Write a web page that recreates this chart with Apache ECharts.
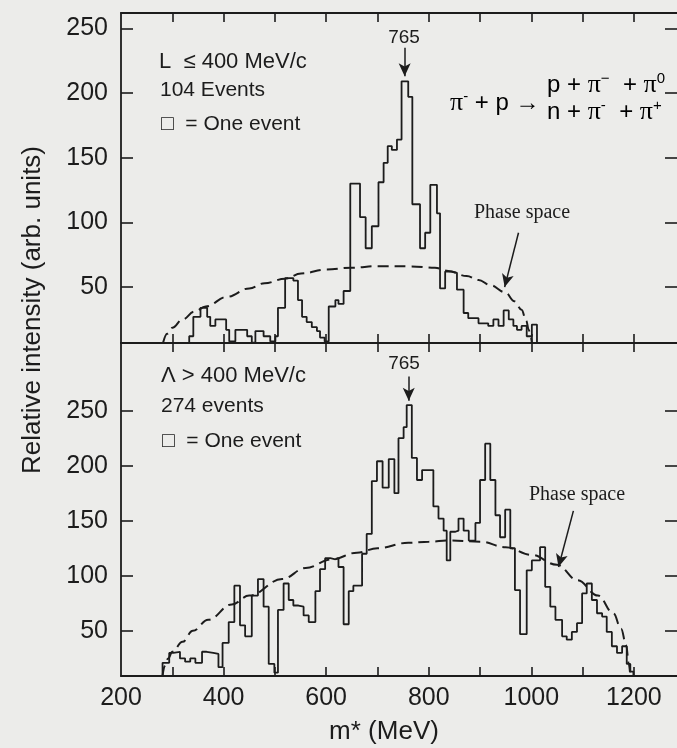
<!DOCTYPE html>
<html>
<head>
<meta charset="utf-8">
<title>rho meson m* spectra</title>
<script src="https://cdn.jsdelivr.net/npm/echarts@6.0.0/dist/echarts.min.js"></script>
<style>
    html, body { margin: 0; padding: 0; background: #ececea; }
    #chart { width: 677px; height: 748px; }
</style>
</head>
<body>
<div id="chart"></div>
<script>
// x ticks and labels (MeV)
var xTicks = [300, 400, 500, 600, 700, 800, 900, 1000, 1100, 1200];
var xLabels = [200, 400, 600, 800, 1000, 1200];
var yTicks = [50, 100, 150, 200, 250];

// upper panel, L <= 400 MeV/c : bin left edges (MeV) and heights
var topEdges = [333, 341, 355, 368, 374, 384, 405, 411, 423, 446, 455, 462, 478, 491, 501, 506, 520, 536, 545, 553,
    562, 572, 582, 588, 597, 605, 618, 624, 634, 647, 666, 677, 689, 702, 712, 720, 728, 738, 747, 760,
    768, 783, 793, 803, 816, 822, 832, 844, 855, 868, 877, 897, 916, 926, 936, 946, 956, 965, 972, 981,
    991, 1001];
var topCounts = [12, 27, 34, 27, 20, 25, 17, 8, 17, 12, 7, 16, 12, 8, 12, 34, 57, 55, 40, 27,
    23, 19, 16, 11, 8, 35, 40, 37, 47, 130, 104, 80, 97, 131, 146, 159, 156, 164, 209, 197,
    114, 80, 92, 129, 107, 49, 62, 61, 48, 30, 26, 22, 20, 25, 20, 32, 25, 20, 17, 20,
    12, 21];
var topEnd = 1011;

// lower panel, L > 400 MeV/c
var lowEdges = [281, 294, 302, 315, 325, 335, 345, 358, 367, 380, 390, 398, 410, 421, 432, 442, 455, 467, 478, 488,
    499, 506, 517, 527, 536, 546, 556, 566, 579, 588, 598, 608, 618, 624, 634, 644, 653, 670, 679, 689,
    699, 710, 722, 733, 741, 751, 757, 767, 777, 787, 809, 819, 829, 835, 842, 852, 858, 868, 878, 891,
    900, 910, 920, 930, 939, 949, 959, 968, 978, 991, 1001, 1017, 1027, 1037, 1047, 1060, 1069, 1079, 1089, 1099,
    1108, 1118, 1128, 1138, 1147, 1157, 1167, 1177, 1186, 1193];
var lowCounts = [21, 30, 31, 25, 22, 25, 21, 31, 30, 29, 17, 39, 58, 91, 55, 45, 82, 97, 72, 20,
    12, 69, 93, 78, 73, 72, 64, 58, 86, 106, 116, 115, 116, 108, 56, 86, 91, 120, 138, 186,
    204, 180, 206, 175, 225, 235, 255, 207, 187, 196, 163, 152, 141, 114, 140, 141, 152, 141, 132, 148,
    187, 220, 187, 155, 135, 160, 125, 87, 47, 105, 114, 126, 90, 72, 60, 45, 42, 49, 57, 84,
    93, 78, 66, 63, 49, 36, 30, 36, 20, 13];
var lowEnd = 1199;

// phase space curves
var topPhaseM = [282, 290, 300, 320, 343, 365, 407, 450, 480, 520, 551, 600, 650, 700, 766, 812, 838, 874, 897, 920, 949, 967, 981, 990, 995, 999, 1001];
var topPhaseV = [7, 14, 18.5, 25, 31, 35, 42.5, 49, 53, 56.5, 60.5, 63.5, 65, 66.2, 66, 65, 62.5, 58.5, 55.5, 51.5, 46, 39, 32.5, 24, 17, 11, 7];
var lowPhaseM = [281, 285, 292, 300, 320, 340, 370, 416, 450, 514, 560, 611, 660, 700, 760, 800, 840, 900, 950, 1000, 1050, 1090, 1130, 1160, 1175, 1185, 1190, 1193];
var lowPhaseV = [9, 18, 25, 31, 40, 50, 60, 74, 82, 97, 107, 115, 121, 125, 130, 131, 132, 131, 126, 119, 110, 96, 82, 66, 52, 37, 20, 9];

var ink = '#1c1c1c';
var sans = '"Liberation Sans", Arial, sans-serif';
var serif = '"Liberation Serif", "Times New Roman", serif';
var topMin = 6.8, topMax = 261.8;
var lowMin = 9, lowMax = 311.4;

function stepPoints(edges, counts, end, base) {
    var pts = [[edges[0], base]];
    for (var i = 0; i < edges.length; i++) {
        pts.push([edges[i], counts[i]]);
    }
    pts.push([end, base]);
    return pts;
}

function pairs(ms, vs) {
    var out = [];
    for (var i = 0; i < ms.length; i++) out.push([ms[i], vs[i]]);
    return out;
}

function xAxisOf(grid, pos, withLabels) {
    return {
        type: 'value', gridIndex: grid, position: pos, min: 200, max: 1284,
        axisLine: { show: true, onZero: false, lineStyle: { color: ink, width: 1.8 } },
        axisTick: { show: true, inside: true, length: 9, customValues: xTicks, lineStyle: { color: ink, width: 1.6 } },
        axisLabel: withLabels ? {
            show: true, customValues: xLabels, fontSize: 25, color: ink, fontFamily: sans, margin: 10,
            formatter: function (v) { return String(v); }
        } : { show: false },
        splitLine: { show: false }
    };
}

function yAxisOf(grid, pos, mn, mx, withLabels) {
    return {
        type: 'value', gridIndex: grid, position: pos, min: mn, max: mx,
        // the right frame edge is cut off in the scan, only its ticks show
        axisLine: { show: withLabels, onZero: false, lineStyle: { color: ink, width: 1.8 } },
        axisTick: { show: true, inside: true, length: 12, customValues: yTicks, lineStyle: { color: ink, width: 1.6 } },
        axisLabel: withLabels ? { show: true, customValues: yTicks, fontSize: 25, color: ink, fontFamily: sans, margin: 13 } : { show: false },
        splitLine: { show: false }
    };
}

function arrowLines(list) {
    return {
        silent: true,
        symbol: ['none', 'arrow'],
        symbolSize: [9, 13],
        label: { show: false },
        lineStyle: { color: ink, width: 1.5, type: 'solid' },
        data: list
    };
}

function txt(x, y, text, size, family, align) {
    return {
        type: 'text', x: x, y: y,
        style: { text: text, fill: ink, font: size + 'px ' + family, align: align || 'left', verticalAlign: 'middle' }
    };
}

var richEq = {
    n: { fontSize: 24, fontFamily: sans, color: ink, lineHeight: 28 },
    p: { fontSize: 26, fontFamily: serif, color: ink, lineHeight: 28 },
    s: { fontSize: 15, fontFamily: sans, color: ink, lineHeight: 14, verticalAlign: 'top' }
};

function eq(x, y, text) {
    return {
        type: 'text', x: x, y: y,
        style: { text: text, rich: richEq, align: 'left', verticalAlign: 'middle' }
    };
}

var chart = echarts.init(document.getElementById('chart'));
var option = {
    backgroundColor: '#ececea',
    animation: false,
    grid: [
        { left: 121, right: 0, top: 13, height: 330 },
        { left: 121, right: 0, top: 343, height: 333 }
    ],
    xAxis: [
        xAxisOf(0, 'bottom', false),
        xAxisOf(0, 'top', false),
        xAxisOf(1, 'bottom', true),
        xAxisOf(1, 'top', false)
    ],
    yAxis: [
        yAxisOf(0, 'left', topMin, topMax, true),
        yAxisOf(0, 'right', topMin, topMax, false),
        yAxisOf(1, 'left', lowMin, lowMax, true),
        yAxisOf(1, 'right', lowMin, lowMax, false)
    ],
    series: [
        {
            name: 'L <= 400', type: 'line', step: 'end', xAxisIndex: 0, yAxisIndex: 0,
            data: stepPoints(topEdges, topCounts, topEnd, topMin),
            showSymbol: false, lineStyle: { color: ink, width: 1.8 },
            markLine: arrowLines([
                [{ coord: [753, 235] }, { coord: [753, 213] }],
                [{ coord: [975, 92] }, { coord: [948, 50] }]
            ])
        },
        {
            name: 'phase top', type: 'line', smooth: 0.4, smoothMonotone: 'x', xAxisIndex: 0, yAxisIndex: 0,
            data: pairs(topPhaseM, topPhaseV),
            showSymbol: false, lineStyle: { color: ink, width: 2, type: [11, 6] }
        },
        {
            name: 'L > 400', type: 'line', step: 'end', xAxisIndex: 2, yAxisIndex: 2,
            data: stepPoints(lowEdges, lowCounts, lowEnd, lowMin),
            showSymbol: false, lineStyle: { color: ink, width: 1.8 },
            markLine: arrowLines([
                [{ coord: [761, 281] }, { coord: [761, 259] }],
                [{ coord: [1082, 159] }, { coord: [1053, 108] }]
            ])
        },
        {
            name: 'phase low', type: 'line', smooth: 0.4, smoothMonotone: 'x', xAxisIndex: 2, yAxisIndex: 2,
            data: pairs(lowPhaseM, lowPhaseV),
            showSymbol: false, lineStyle: { color: ink, width: 2, type: [11, 6] }
        }
    ],
    graphic: [
        txt(159, 62, 'L  \u2264 400 MeV/c', 22, sans),
        txt(160, 90, '104 Events', 21, sans),
        txt(161, 124, '\u25A1  = One event', 21, sans),
        txt(404, 38, '765', 19, sans, 'center'),
        eq(450, 103, '{p|\u03C0}{s|-}{n| + p \u2192}'),
        eq(547, 85, '{n|p + }{p|\u03C0}{s|\u2212}{n|  + }{p|\u03C0}{s|0}'),
        eq(547, 112, '{n|n + }{p|\u03C0}{s|-}{n|  + }{p|\u03C0}{s|+}'),
        txt(474, 213, 'Phase space', 20, serif),
        txt(161, 376, '\u039B > 400 MeV/c', 22, sans),
        txt(161, 406, '274 events', 21, sans),
        txt(162, 441, '\u25A1  = One event', 21, sans),
        txt(404, 364, '765', 19, sans, 'center'),
        txt(529, 495, 'Phase space', 20, serif),
        {
            type: 'text', x: 33, y: 310, rotation: Math.PI / 2,
            style: { text: 'Relative intensity (arb. units)', fill: ink, font: '26px ' + sans, align: 'center', verticalAlign: 'middle' }
        },
        txt(384, 732, 'm* (MeV)', 26, sans, 'center')
    ]
};
chart.setOption(option);
</script>
</body>
</html>
